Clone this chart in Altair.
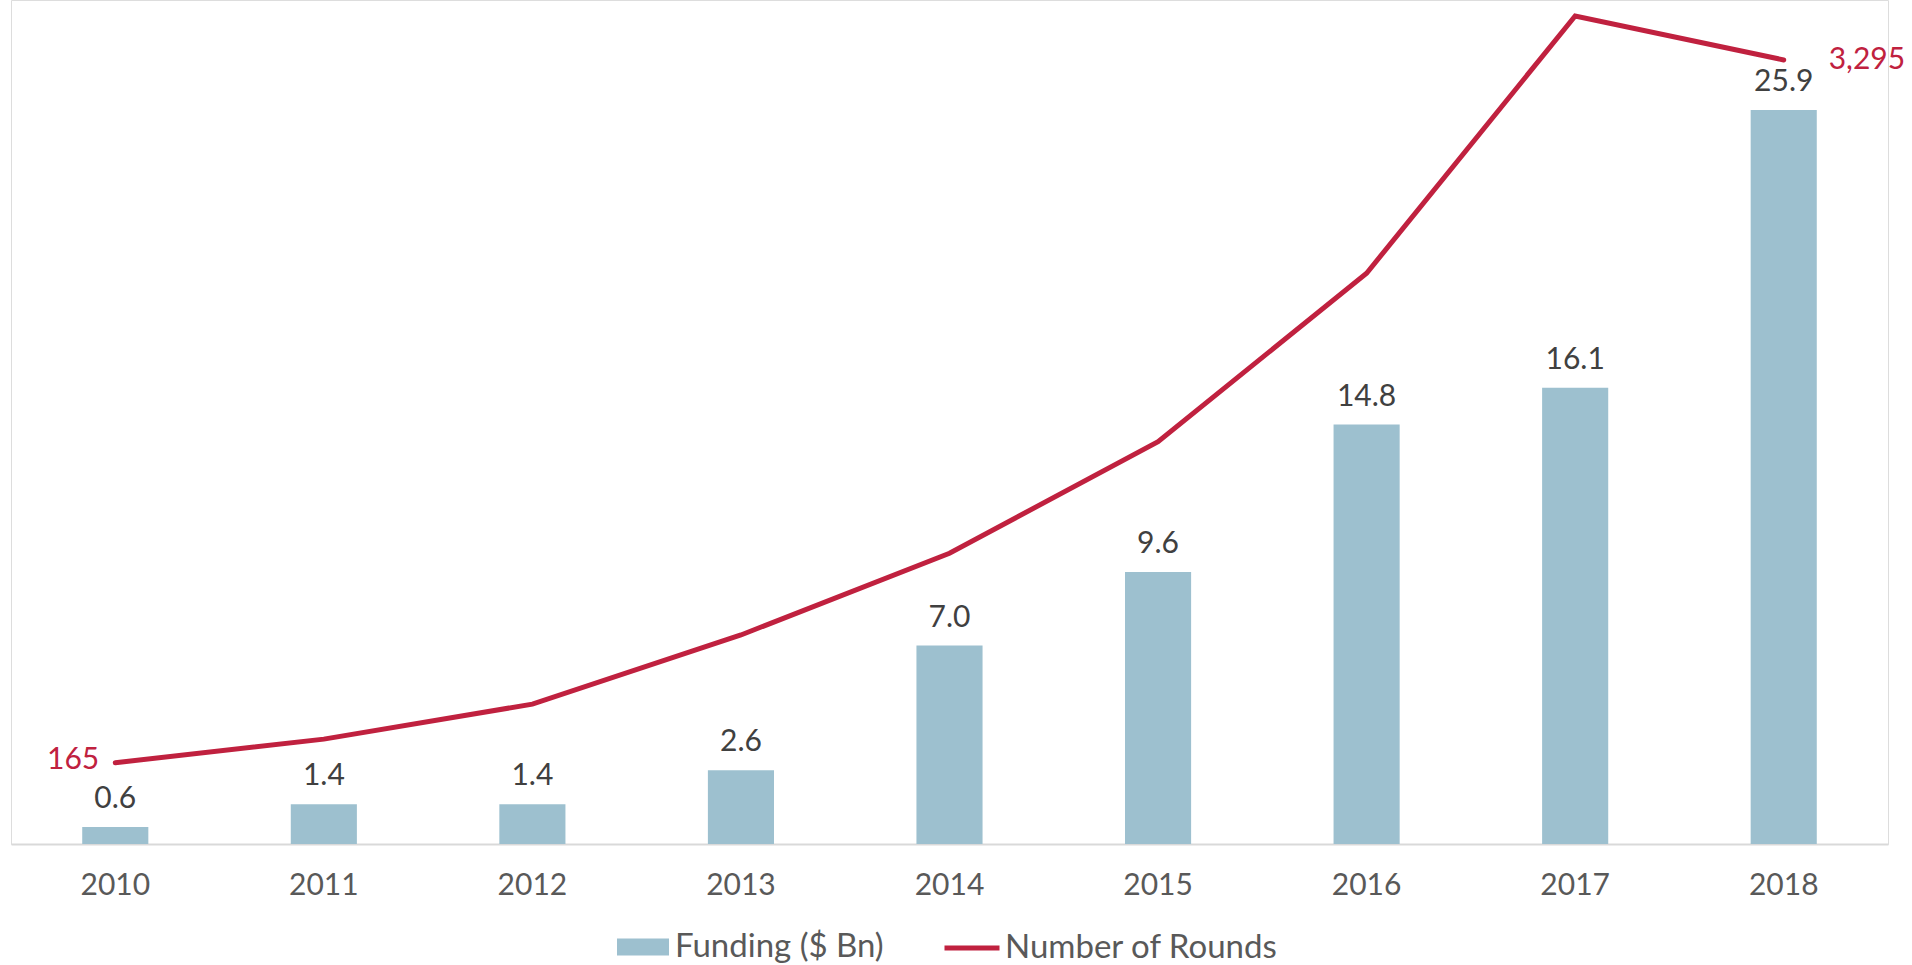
import altair as alt
import pandas as pd

years = ["2010", "2011", "2012", "2013", "2014", "2015", "2016", "2017", "2018"]
funding = [0.6, 1.4, 1.4, 2.6, 7.0, 9.6, 14.8, 16.1, 25.9]
rounds = [165, 270, 426, 734, 1098, 1595, 2345, 3491, 3295]
funding_labels = ["0.6", "1.4", "1.4", "2.6", "7.0", "9.6", "14.8", "16.1", "25.9"]
rounds_labels = ["165", "", "", "", "", "", "", "", "3,295"]

df = pd.DataFrame({
    "year": years,
    "funding": funding,
    "rounds": rounds,
    "flabel": funding_labels,
    "rlabel": rounds_labels,
})

FONT = "Lato"
BAR = "#9DC0CF"
RED = "#C0213F"
GREY = "#404040"

x = alt.X("year:N", sort=years,
          scale=alt.Scale(paddingInner=0.683, paddingOuter=0.3415),
          axis=alt.Axis(title=None, labelAngle=0, labelFont=FONT, labelFontSize=30,
                        labelColor="#595959", labelPadding=26, ticks=False, grid=False,
                        domainColor="#D9D9D9", domainWidth=2))

yb = alt.Scale(domain=[0, 29.78], nice=False, zero=False)
yl = alt.Scale(domain=[-197, 3562], nice=False, zero=False)

bars = alt.Chart(df).mark_bar(color=BAR).encode(
    x=x,
    y=alt.Y("funding:Q", scale=yb, axis=None),
    fill=alt.Fill("series:N", scale=alt.Scale(domain=["Funding ($ Bn)"], range=[BAR]),
                  legend=alt.Legend(title=None, orient="none", legendX=606, legendY=921,
                                    symbolType="M-1,-0.33H1V0.33H-1Z", symbolSize=2704,
                                    symbolStrokeWidth=0, labelOffset=6, labelLimit=500,
                                    labelFont=FONT, labelFontSize=33, labelColor="#595959")),
).transform_calculate(series="'Funding ($ Bn)'")

bar_text = alt.Chart(df).mark_text(font=FONT, fontSize=30, color=GREY,
                                   baseline="alphabetic", dy=-19).encode(
    x=x,
    y=alt.Y("funding:Q", scale=yb, axis=None),
    text="flabel:N",
)

line = alt.Chart(df).mark_line(strokeWidth=5, strokeCap="round").encode(
    x=x,
    y=alt.Y("rounds:Q", scale=yl, axis=None),
    stroke=alt.Stroke("series:N", scale=alt.Scale(domain=["Number of Rounds"], range=[RED]),
                      legend=alt.Legend(title=None, orient="none", legendX=931, legendY=918,
                                        symbolType="stroke", symbolSize=3025,
                                        symbolStrokeWidth=5, labelOffset=3, labelLimit=500,
                                        labelFont=FONT, labelFontSize=33, labelColor="#595959")),
).transform_calculate(series="'Number of Rounds'")

first = alt.Chart(df).transform_filter("datum.year == '2010'").mark_text(
    font=FONT, fontSize=30, color=RED, align="right", baseline="middle", dx=-16, dy=-3
).encode(x=x, y=alt.Y("rounds:Q", scale=yl, axis=None), text="rlabel:N")

last = alt.Chart(df).transform_filter("datum.year == '2018'").mark_text(
    font=FONT, fontSize=30, color=RED, align="left", baseline="middle", dx=45
).encode(x=x, y=alt.Y("rounds:Q", scale=yl, axis=None), text="rlabel:N")

left_layer = alt.layer(bars, bar_text)
right_layer = alt.layer(line, first, last)

chart = alt.layer(left_layer, right_layer).resolve_scale(
    y="independent", fill="independent", stroke="independent"
).resolve_legend(fill="independent", stroke="independent").properties(
    width=1877, height=844,
    padding={"left": 11, "top": 0, "right": 24, "bottom": 121},
    autosize=alt.AutoSizeParams(type="none"),
).configure_view(stroke=None).configure(background="white")

chart.save("out.html", embed_options={"renderer": "svg", "actions": False})
